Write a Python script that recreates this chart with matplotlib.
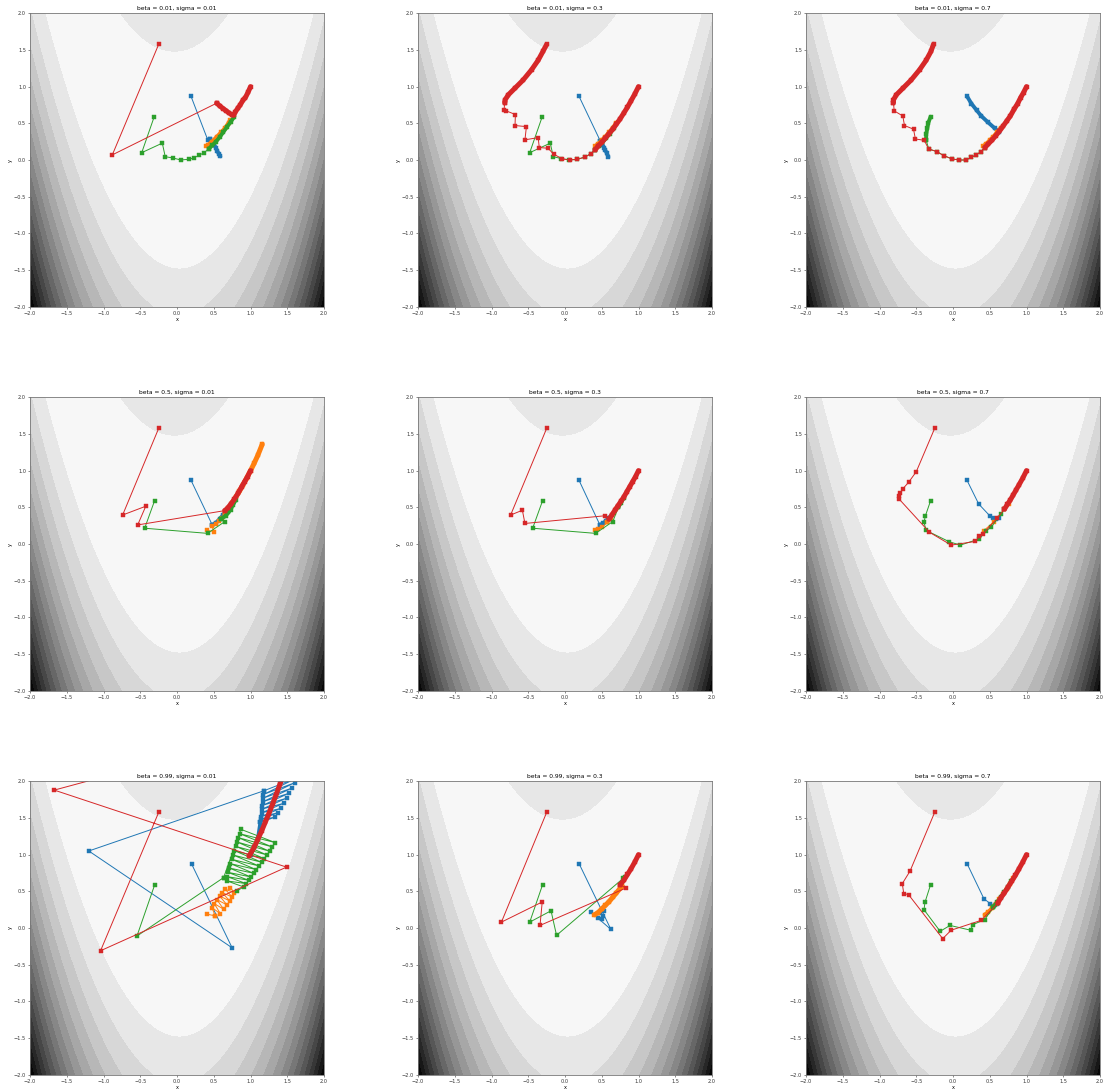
import numpy as np
import matplotlib
matplotlib.use("Agg")
import matplotlib.pyplot as plt

# ---- grid of runs -------------------------------------------------------
betas = [0.01, 0.5, 0.99]
sigmas = [0.01, 0.3, 0.7]

# ---- background: f(x, y) = (1 - x)^2 + B (y - x^2)^2 ------------------
B = 10.0
level_top = 369.0
n_levels = 17

# ---- iterate paths (x, y); "*_d" lists are densely sampled stretches ---
# beta = 0.01, sigma = 0.01
p11_blue = [(0.19, 0.87), (0.42, 0.27), (0.45, 0.28)]
p11_blue_d = [(0.45, 0.28), (0.48, 0.24), (0.51, 0.20), (0.53, 0.16), (0.55, 0.12), (0.57, 0.08), (0.59, 0.05)]
p11_orange_d = [(0.40, 0.19), (0.42, 0.205), (0.476, 0.25), (0.544, 0.32), (0.603, 0.38), (0.657, 0.44), (0.703, 0.51), (0.725, 0.546)]
p11_green = [(-0.31, 0.59), (-0.48, 0.10), (-0.20, 0.23), (-0.16, 0.045), (-0.05, 0.027), (0.05, 0.0), (0.16, 0.01), (0.235, 0.03), (0.30, 0.065), (0.37, 0.10), (0.43, 0.15)]
p11_green_d = [(0.43, 0.15), (0.48, 0.20), (0.53, 0.25), (0.58, 0.31), (0.63, 0.38), (0.68, 0.45), (0.73, 0.52), (0.78, 0.59)]
p11_red = [(-0.25, 1.575), (-0.88, 0.07), (0.54, 0.775)]
p11_red_d = [(0.54, 0.775), (0.59, 0.73), (0.63, 0.70), (0.67, 0.67), (0.71, 0.64), (0.75, 0.615), (0.77, 0.61), (0.79, 0.65), (0.83, 0.71), (0.86, 0.75), (0.90, 0.82), (0.93, 0.85), (0.97, 0.93), (1.0, 1.0)]

# beta = 0.01, sigma = 0.3
p12_blue = [(0.19, 0.87), (0.48, 0.26)]
p12_blue_d = [(0.48, 0.26), (0.51, 0.21), (0.53, 0.17), (0.55, 0.13), (0.57, 0.09), (0.59, 0.04)]
p12_orange_d = [(0.41, 0.19), (0.45, 0.22), (0.50, 0.27), (0.55, 0.32), (0.60, 0.38), (0.65, 0.44), (0.70, 0.51)]
p12_green = [(-0.31, 0.59), (-0.48, 0.10), (-0.20, 0.23), (-0.16, 0.045), (-0.05, 0.02), (0.06, 0.0), (0.17, 0.01), (0.27, 0.04), (0.35, 0.085), (0.41, 0.14)]
p12_green_d = [(0.41, 0.14), (0.46, 0.19), (0.51, 0.24), (0.56, 0.30), (0.61, 0.36), (0.66, 0.43)]
p12_red_d0 = [(-0.25, 1.575), (-0.30, 1.48), (-0.365, 1.36), (-0.455, 1.23), (-0.57, 1.09), (-0.68, 0.98), (-0.77, 0.89), (-0.815, 0.82), (-0.82, 0.78)]
p12_red = [(-0.82, 0.78), (-0.83, 0.68), (-0.80, 0.67), (-0.675, 0.62), (-0.68, 0.47), (-0.525, 0.455), (-0.545, 0.275), (-0.365, 0.305), (-0.35, 0.17), (-0.23, 0.16), (-0.155, 0.08), (-0.035, 0.015), (0.065, 0.0), (0.17, 0.01), (0.27, 0.04), (0.35, 0.085), (0.41, 0.14)]
p12_red_d = [(0.41, 0.14), (0.45, 0.19), (0.50, 0.24), (0.55, 0.30), (0.60, 0.36), (0.65, 0.42), (0.70, 0.49), (0.75, 0.56), (0.80, 0.64), (0.85, 0.72), (0.90, 0.81), (0.95, 0.90), (1.0, 1.0)]

# beta = 0.01, sigma = 0.7
p13_blue_d = [(0.19, 0.87), (0.25, 0.77), (0.32, 0.68), (0.385, 0.60), (0.475, 0.515), (0.565, 0.435), (0.63, 0.38)]
p13_orange_d = [(0.41, 0.19), (0.45, 0.22), (0.50, 0.27), (0.55, 0.32), (0.60, 0.38), (0.65, 0.44)]
p13_green_d = [(-0.305, 0.59), (-0.335, 0.51), (-0.35, 0.43), (-0.365, 0.35), (-0.365, 0.27)]
p13_green = [(-0.365, 0.27), (-0.33, 0.15), (-0.22, 0.115), (-0.125, 0.06), (-0.015, 0.015), (0.085, 0.0), (0.18, 0.0), (0.245, 0.035), (0.31, 0.065), (0.375, 0.11), (0.435, 0.17)]
p13_red_d0 = [(-0.265, 1.578), (-0.30, 1.48), (-0.365, 1.36), (-0.455, 1.23), (-0.57, 1.09), (-0.68, 0.98), (-0.77, 0.89), (-0.81, 0.82), (-0.81, 0.78)]
p13_red = [(-0.81, 0.78), (-0.80, 0.67), (-0.683, 0.60), (-0.66, 0.47), (-0.537, 0.42), (-0.512, 0.287), (-0.39, 0.268), (-0.333, 0.151), (-0.222, 0.115), (-0.126, 0.06), (-0.018, 0.016), (0.08, 0.0), (0.178, 0.0), (0.246, 0.036), (0.31, 0.066), (0.375, 0.11), (0.435, 0.17)]
p13_red_d = [(0.435, 0.17), (0.48, 0.22), (0.53, 0.27), (0.58, 0.33), (0.63, 0.39), (0.68, 0.46), (0.73, 0.53), (0.78, 0.60), (0.83, 0.69), (0.88, 0.77), (0.92, 0.85), (0.96, 0.92), (1.0, 1.0)]

# beta = 0.5, sigma = 0.01
p21_blue = [(0.19, 0.87), (0.48, 0.26)]
p21_blue_d = [(0.48, 0.26), (0.53, 0.29), (0.58, 0.34), (0.63, 0.40), (0.68, 0.46), (0.72, 0.52)]
p21_orange = [(0.405, 0.185), (0.51, 0.17), (0.47, 0.24), (0.53, 0.27), (0.575, 0.32), (0.61, 0.36), (0.655, 0.41)]
p21_orange_d = [(0.655, 0.41), (0.70, 0.49), (0.75, 0.56), (0.80, 0.64), (0.85, 0.72), (0.90, 0.81), (0.95, 0.90), (1.0, 1.0), (1.05, 1.10), (1.10, 1.21), (1.16, 1.36)]
p21_green = [(-0.305, 0.59), (-0.44, 0.215), (0.415, 0.145), (0.65, 0.305), (0.60, 0.345)]
p21_green_d = [(0.60, 0.345), (0.66, 0.38), (0.70, 0.43), (0.73, 0.47), (0.76, 0.53), (0.80, 0.60)]
p21_red = [(-0.25, 1.575), (-0.74, 0.395), (-0.425, 0.515), (-0.535, 0.26), (0.65, 0.455)]
p21_red_d = [(0.65, 0.455), (0.69, 0.49), (0.73, 0.54), (0.78, 0.61), (0.83, 0.69), (0.88, 0.78), (0.92, 0.85), (0.96, 0.92), (1.0, 1.0)]

# beta = 0.5, sigma = 0.3
p22_blue = [(0.19, 0.87), (0.475, 0.26)]
p22_blue_d = [(0.475, 0.26), (0.52, 0.28), (0.56, 0.32), (0.60, 0.36)]
p22_orange = [(0.405, 0.185), (0.45, 0.21), (0.51, 0.23), (0.575, 0.295)]
p22_orange_d = [(0.575, 0.295), (0.62, 0.36), (0.66, 0.42), (0.70, 0.48)]
p22_green = [(-0.305, 0.59), (-0.44, 0.215), (0.415, 0.145), (0.65, 0.305), (0.725, 0.50)]
p22_green_d = [(0.725, 0.50), (0.76, 0.56), (0.80, 0.63)]
p22_red = [(-0.25, 1.575), (-0.74, 0.395), (-0.58, 0.46), (-0.545, 0.28), (0.545, 0.385), (0.60, 0.34)]
p22_red_d = [(0.60, 0.34), (0.64, 0.40), (0.68, 0.46), (0.72, 0.52), (0.76, 0.58), (0.80, 0.64), (0.84, 0.71), (0.88, 0.78), (0.92, 0.85), (0.96, 0.92), (1.0, 1.0)]

# beta = 0.5, sigma = 0.7
p23_blue = [(0.19, 0.87), (0.35, 0.545), (0.50, 0.385), (0.545, 0.35), (0.59, 0.34), (0.63, 0.36)]
p23_orange = [(0.42, 0.183), (0.557, 0.305), (0.757, 0.546)]
p23_green = [(-0.305, 0.59), (-0.375, 0.385), (-0.395, 0.295), (-0.365, 0.185), (-0.05, 0.03), (0.10, -0.015), (0.36, 0.07), (0.45, 0.18), (0.52, 0.23), (0.655, 0.41), (0.70, 0.48)]
p23_red = [(-0.25, 1.575), (-0.50, 0.985), (-0.605, 0.84), (-0.685, 0.75), (-0.715, 0.695), (-0.74, 0.655), (-0.74, 0.62), (-0.32, 0.16), (-0.025, -0.015), (0.305, 0.035), (0.36, 0.11), (0.405, 0.135), (0.60, 0.35), (0.70, 0.475)]
p23_red_d = [(0.70, 0.475), (0.74, 0.54), (0.78, 0.60), (0.82, 0.67), (0.86, 0.74), (0.90, 0.81), (0.95, 0.90), (1.0, 1.0)]

# beta = 0.99, sigma = 0.01
p31_blue = [(0.20, 0.87), (0.75, -0.27), (-1.20, 1.05), (1.18, 1.87)]
p31_blue_fan = [(1.18, 1.87), (1.64, 2.05), (1.175, 1.82), (1.60, 1.98), (1.17, 1.77), (1.57, 1.91), (1.165, 1.72), (1.53, 1.84), (1.16, 1.67), (1.49, 1.77), (1.155, 1.62), (1.45, 1.70), (1.15, 1.57), (1.41, 1.63), (1.145, 1.52), (1.37, 1.57), (1.14, 1.48), (1.33, 1.51), (1.135, 1.44)]
p31_blue_d = [(1.135, 1.44), (1.10, 1.21), (1.05, 1.10), (1.0, 1.0)]
p31_orange = [(0.405, 0.19), (0.52, 0.165)]
p31_orange_fan = [(0.52, 0.165), (0.475, 0.278), (0.589, 0.197), (0.507, 0.333), (0.634, 0.256), (0.543, 0.387), (0.679, 0.315), (0.580, 0.437), (0.716, 0.369), (0.616, 0.483), (0.748, 0.424), (0.657, 0.528), (0.779, 0.483), (0.725, 0.55)]
p31_green = [(-0.305, 0.585), (-0.545, -0.11), (0.634, 0.687)]
p31_green_fan = [(0.634, 0.687), (0.870, 1.345), (1.338, 1.164), (0.852, 1.286), (1.297, 1.105), (0.834, 1.232), (1.261, 1.046), (0.816, 1.173), (1.224, 0.996), (0.797, 1.114), (1.188, 0.946), (0.779, 1.055), (1.152, 0.896), (0.761, 0.996), (1.115, 0.846), (0.743, 0.937), (1.079, 0.796), (0.725, 0.878), (1.043, 0.746), (0.707, 0.819), (1.006, 0.696), (0.688, 0.760), (0.975, 0.651), (0.679, 0.701), (0.943, 0.605), (0.679, 0.642), (0.906, 0.560), (0.816, 0.505)]
p31_red = [(-0.25, 1.575), (-1.04, -0.31), (1.49, 0.83), (-1.67, 1.88), (-0.30, 2.25), (1.60, 2.56)]
p31_red_d = [(1.60, 2.56), (1.50, 2.25), (1.45, 2.10), (1.40, 1.96), (1.35, 1.82), (1.30, 1.69), (1.25, 1.56), (1.20, 1.44), (1.15, 1.32), (1.10, 1.21), (1.05, 1.10), (0.98, 0.98)]

# beta = 0.99, sigma = 0.3
p32_blue = [(0.195, 0.87), (0.625, -0.02), (0.355, 0.215), (0.455, 0.14), (0.50, 0.12), (0.52, 0.17), (0.48, 0.20), (0.53, 0.23)]
p32_orange_d = [(0.40, 0.18), (0.45, 0.21), (0.50, 0.26), (0.55, 0.31), (0.60, 0.36), (0.65, 0.42), (0.70, 0.48), (0.75, 0.54), (0.78, 0.57)]
p32_green = [(-0.305, 0.59), (-0.48, 0.08), (-0.19, 0.235), (-0.115, -0.10), (0.795, 0.68), (0.82, 0.69)]
p32_red = [(-0.25, 1.575), (-0.865, 0.08), (-0.31, 0.355), (-0.34, 0.035), (0.83, 0.545), (0.75, 0.59)]
p32_red_d = [(0.75, 0.59), (0.80, 0.65), (0.85, 0.73), (0.90, 0.81), (0.95, 0.90), (1.0, 1.0)]

# beta = 0.99, sigma = 0.7
p33_blue = [(0.195, 0.87), (0.42, 0.40), (0.51, 0.33), (0.575, 0.31), (0.60, 0.33)]
p33_orange_d = [(0.43, 0.18), (0.48, 0.22), (0.53, 0.27), (0.58, 0.33), (0.63, 0.39), (0.68, 0.46), (0.73, 0.53), (0.78, 0.60), (0.82, 0.68)]
p33_green = [(-0.305, 0.59), (-0.38, 0.355), (-0.395, 0.25), (-0.175, -0.045), (-0.04, 0.035), (0.24, -0.03), (0.27, 0.045), (0.43, 0.115), (0.55, 0.28)]
p33_green_d = [(0.55, 0.28), (0.60, 0.35), (0.65, 0.42), (0.70, 0.49), (0.75, 0.56), (0.79, 0.64)]
p33_red = [(-0.25, 1.575), (-0.585, 0.775), (-0.69, 0.605), (-0.67, 0.47), (-0.605, 0.455), (-0.14, -0.145), (-0.025, -0.03), (0.385, 0.105), (0.61, 0.34)]
p33_red_d = [(0.61, 0.34), (0.65, 0.41), (0.70, 0.48), (0.75, 0.56), (0.80, 0.64), (0.85, 0.72), (0.90, 0.81), (0.95, 0.90), (1.0, 1.0)]

tick_vals = [-2.0, -1.5, -1.0, -0.5, 0.0, 0.5, 1.0, 1.5, 2.0]

# ---- drawing -------------------------------------------------------------
COL = {"blue": "#1f77b4", "orange": "#ff7f0e", "green": "#2ca02c", "red": "#d62728"}

# (colour, points, kind) pieces for each panel, drawn in colour order
runs = {
    (0, 0): [("blue", p11_blue, "s"), ("blue", p11_blue_d, "d"), ("orange", p11_orange_d, "d"),
             ("green", p11_green, "s"), ("green", p11_green_d, "d"), ("red", p11_red, "s"), ("red", p11_red_d, "D")],
    (0, 1): [("blue", p12_blue, "s"), ("blue", p12_blue_d, "d"), ("orange", p12_orange_d, "d"),
             ("green", p12_green, "s"), ("green", p12_green_d, "d"), ("red", p12_red_d0, "D"), ("red", p12_red, "s"),
             ("red", p12_red_d, "D")],
    (0, 2): [("blue", p13_blue_d, "d"), ("orange", p13_orange_d, "d"), ("green", p13_green_d, "d"),
             ("green", p13_green, "s"), ("red", p13_red_d0, "D"), ("red", p13_red, "s"), ("red", p13_red_d, "D")],
    (1, 0): [("blue", p21_blue, "s"), ("blue", p21_blue_d, "d"), ("orange", p21_orange, "s"),
             ("orange", p21_orange_d, "D"), ("green", p21_green, "s"), ("green", p21_green_d, "d"),
             ("red", p21_red, "s"), ("red", p21_red_d, "D")],
    (1, 1): [("blue", p22_blue, "s"), ("blue", p22_blue_d, "d"), ("orange", p22_orange, "s"),
             ("orange", p22_orange_d, "d"), ("green", p22_green, "s"), ("green", p22_green_d, "d"),
             ("red", p22_red, "s"), ("red", p22_red_d, "D")],
    (1, 2): [("blue", p23_blue, "s"), ("orange", p23_orange, "s"), ("green", p23_green, "s"),
             ("red", p23_red, "s"), ("red", p23_red_d, "D")],
    (2, 0): [("blue", p31_blue, "s"), ("blue", p31_blue_fan, "s"), ("blue", p31_blue_d, "d"),
             ("orange", p31_orange, "s"), ("orange", p31_orange_fan, "s"),
             ("green", p31_green, "s"), ("green", p31_green_fan, "s"),
             ("red", p31_red, "s"), ("red", p31_red_d, "D")],
    (2, 1): [("blue", p32_blue, "s"), ("orange", p32_orange_d, "D"), ("green", p32_green, "s"),
             ("red", p32_red, "s"), ("red", p32_red_d, "D")],
    (2, 2): [("blue", p33_blue, "s"), ("orange", p33_orange_d, "d"), ("green", p33_green, "s"),
             ("green", p33_green_d, "d"), ("red", p33_red, "s"), ("red", p33_red_d, "D")],
}

W, H = 1103, 1092
fig = plt.figure(figsize=(W / 100, H / 100), dpi=100)

gx = np.linspace(-2, 2, 500)
gy = np.linspace(-2, 2, 500)
X, Y = np.meshgrid(gx, gy)
Z = (1 - X) ** 2 + B * (Y - X ** 2) ** 2
levels = np.linspace(0, level_top, n_levels)

ax_w, ax_h = 294, 293.4
for r, beta in enumerate(betas):
    for c, sigma in enumerate(sigmas):
        left = 30 + 388 * c
        top = 13.3 + 384 * r
        ax = fig.add_axes([left / W, 1 - (top + ax_h) / H, ax_w / W, ax_h / H])
        ax.contourf(X, Y, Z, levels=levels, cmap="gray_r", extend="max")
        for color, pts, kind in runs[(r, c)]:
            xs = [p[0] for p in pts]
            ys = [p[1] for p in pts]
            if kind == "s":
                ax.plot(xs, ys, color=COL[color], lw=0.7, marker="s", ms=2.4,
                        mew=0.3, solid_capstyle="round")
            else:
                lw = 3.6 if kind == "D" else 2.8
                ax.plot(xs, ys, color=COL[color], lw=lw, solid_capstyle="round",
                        solid_joinstyle="round")
                ax.plot(xs, ys, color=COL[color], lw=0, marker="s", ms=2.6, mew=0.3)
        ax.set_xlim(-2, 2)
        ax.set_ylim(-2, 2)
        ax.set_xticks(tick_vals)
        ax.set_yticks(tick_vals)
        ax.tick_params(labelsize=3.6, length=1.6, width=0.4, pad=1.2, colors="#333333")
        for sp in ax.spines.values():
            sp.set_linewidth(0.6)
            sp.set_color("#777777")
        ax.set_xlabel("x", fontsize=3.6, labelpad=1.0)
        ax.set_ylabel("y", fontsize=3.6, labelpad=1.0)
        ax.set_title(f"beta = {beta}, sigma = {sigma}", fontsize=4.3, pad=2.2)

fig.savefig("out.png", dpi=100)
